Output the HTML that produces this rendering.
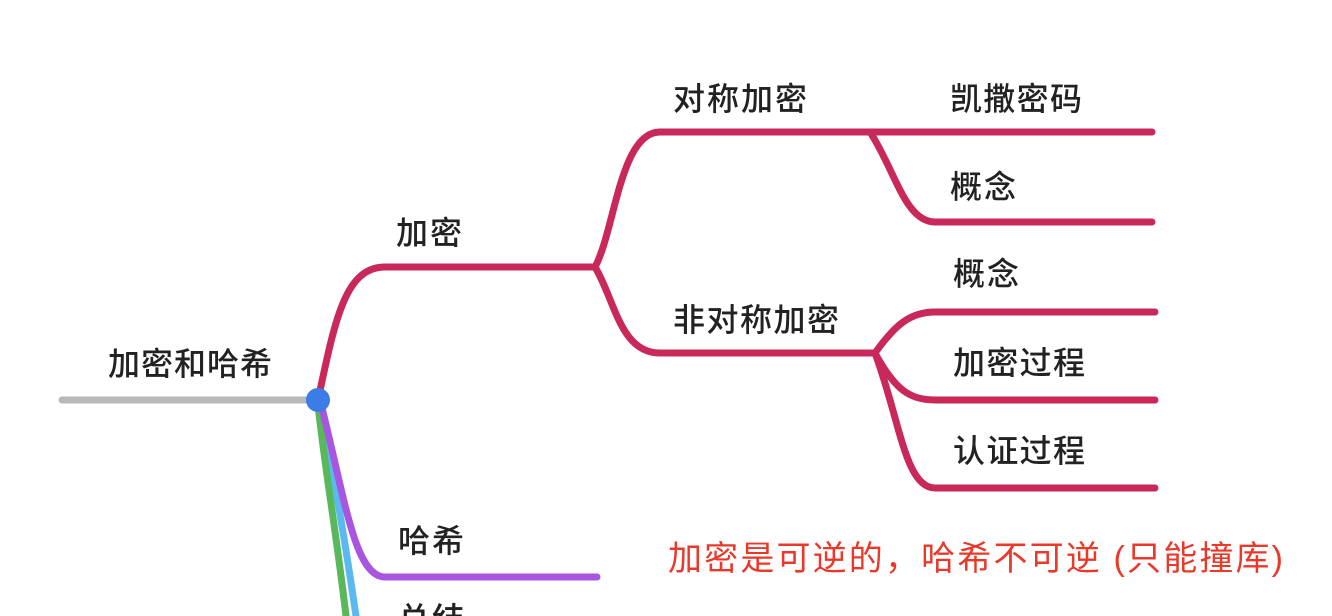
<!DOCTYPE html>
<html><head><meta charset="utf-8"><style>
html,body{margin:0;padding:0;background:#fff;}
svg{display:block}
text{font-family:"Liberation Sans","Noto Sans CJK SC",sans-serif;fill:#222;}
</style></head><body>
<svg width="1332" height="616" viewBox="0 0 1332 616" xmlns="http://www.w3.org/2000/svg">
<g fill="none" stroke-linecap="round" stroke-width="7">
<line x1="62" y1="400" x2="318" y2="400" stroke="#b8b8b8"/>
<path d="M321 408 C332 470 342 520 356 616" stroke="#5ab9ef"/>
<path d="M318 405 C325 470 336 530 346 616" stroke="#58b85a"/>
<path d="M322 408 C345 500 355 577 385 577 L597 577" stroke="#a855e0"/>
<g stroke="#c8285a">
<path d="M318 400 C335 320 345 267 385 267 L595 267"/>
<path d="M595 267 C615 230 620 132 660 132 L1152 132"/>
<path d="M595 267 C615 300 620 353 660 353 L875 353"/>
<path d="M870 132 C895 170 905 222 935 222 L1152 222"/>
<path d="M875 353 C895 325 910 312 935 312 L1155 312"/>
<path d="M875 353 C895 390 910 400 935 400 L1155 400"/>
<path d="M875 353 C900 420 905 488 935 488 L1155 488"/>
</g>
</g>
<circle cx="318" cy="400" r="12" fill="#3b7ce6"/>
<g font-size="32" font-weight="500">
<text x="108" y="375" textLength="164">加密和哈希</text>
<text x="396" y="244" textLength="66">加密</text>
<text x="673" y="110" textLength="134">对称加密</text>
<text x="673" y="331" textLength="166">非对称加密</text>
<text x="950" y="110" textLength="132">凯撒密码</text>
<text x="950" y="198" textLength="66">概念</text>
<text x="953" y="285" textLength="66">概念</text>
<text x="953" y="374" textLength="132">加密过程</text>
<text x="953" y="462" textLength="132">认证过程</text>
<text x="398" y="552" textLength="66">哈希</text>
<text x="398" y="630" textLength="66">总结</text>
</g>
<text x="668" y="570" font-size="34" textLength="615" style="fill:#e8392b">加密是可逆的，哈希不可逆 (只能撞库)</text>
</svg>
</body></html>
